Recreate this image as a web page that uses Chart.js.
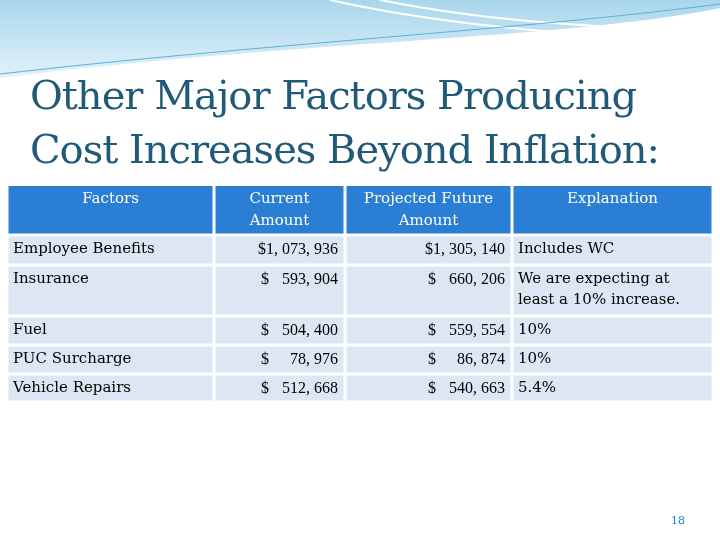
<!DOCTYPE html>
<html>
<head>
<meta charset="utf-8">
<script src="https://cdn.jsdelivr.net/npm/chart.js@4"></script>
<style>
  body { margin: 0; background: #fff; }
  #wrap { position: relative; width: 720px; height: 540px; }
  #title { position: absolute; left: 30px; top: 68px; font-family: "DejaVu Serif", serif; font-size: 40px;
           line-height: 54px; color: #215a78; letter-spacing: -1px; white-space: nowrap; }
  canvas { position: absolute; left: 0; top: 0; }
</style>
</head>
<body>
<div id="wrap">
  <canvas id="myChart" width="720" height="540"></canvas>
  <div id="title">Other Major Factors Producing<br>Cost Increases Beyond Inflation:</div>
</div>
<script>
const headers = [["Factors"], ["Current", "Amount"], ["Projected Future", "Amount"], ["Explanation"]];
const factors = ["Employee Benefits", "Insurance", "Fuel", "PUC Surcharge", "Vehicle Repairs"];
const currentAmounts = [1073936, 593904, 504400, 78976, 512668];
const projectedAmounts = [1305140, 660206, 559554, 86874, 540663];
const explanations = [["Includes WC"], ["We are expecting at", "least a 10% increase."], ["10%"], ["10%"], ["5.4%"]];

// layout (slide units)
const colEdges = [7, 214, 345, 512, 713];
const rowEdges = [186, 235, 265, 316, 345, 374, 402];
const gap = 1.5;

const fmt = (n) => n.toLocaleString("en-US").replace(/,/g, ", ");

const tablePlugin = {
  id: "table",
  beforeDraw: (chart) => {
    const ctx = chart.ctx;
    ctx.save();
    // top decoration
    let g = ctx.createLinearGradient(0, 0, 0, 80);
    g.addColorStop(0, "#a9d6ec"); g.addColorStop(1, "#e3f3fa");
    ctx.fillStyle = g;
    ctx.beginPath();
    ctx.moveTo(0, 0); ctx.lineTo(720, 0); ctx.lineTo(720, 8);
    ctx.bezierCurveTo(560, 40, 300, 40, 0, 78);
    ctx.closePath(); ctx.fill();
    ctx.strokeStyle = "#ffffff"; ctx.lineWidth = 2;
    ctx.beginPath(); ctx.moveTo(330, 0); ctx.bezierCurveTo(420, 20, 520, 32, 650, 38); ctx.stroke();
    ctx.beginPath(); ctx.moveTo(380, 0); ctx.bezierCurveTo(470, 18, 560, 26, 690, 30); ctx.stroke();
    ctx.strokeStyle = "#5fb0d8"; ctx.lineWidth = 1;
    ctx.beginPath(); ctx.moveTo(0, 74); ctx.bezierCurveTo(250, 45, 520, 30, 720, 4); ctx.stroke();
    ctx.restore();
  },
  afterDraw: (chart) => {
    const ctx = chart.ctx;
    const x = chart.scales.x, y = chart.scales.y;
    const px = (v) => x.getPixelForValue(v), py = (v) => y.getPixelForValue(v);
    const textFont = "15px 'DejaVu Serif', serif";
    const numFont = "16px 'Liberation Serif', serif";
    ctx.save();
    ctx.font = textFont;
    ctx.textBaseline = "top";
    // header
    for (let c = 0; c < 4; c++) {
      const x0 = px(colEdges[c] + gap), x1 = px(colEdges[c + 1] - gap);
      ctx.fillStyle = "#2a7fd4";
      ctx.fillRect(x0, py(rowEdges[0]), x1 - x0, py(rowEdges[1] - gap) - py(rowEdges[0]));
      ctx.fillStyle = "#ffffff"; ctx.textAlign = "center";
      headers[c].forEach((t, k) => ctx.fillText(t, (x0 + x1) / 2, py(rowEdges[0] + 6 + k * 22)));
    }
    // body
    for (let r = 0; r < factors.length; r++) {
      const y0 = py(rowEdges[r + 1] + gap), y1 = py(rowEdges[r + 2] - gap);
      const ty = py(rowEdges[r + 1] + 7);
      for (let c = 0; c < 4; c++) {
        const x0 = px(colEdges[c] + gap), x1 = px(colEdges[c + 1] - gap);
        ctx.fillStyle = "#dde7f3";
        ctx.fillRect(x0, y0, x1 - x0, y1 - y0);
      }
      ctx.fillStyle = "#000000";
      ctx.font = textFont;
      ctx.textAlign = "left";
      ctx.fillText(factors[r], px(colEdges[0] + 6), ty);
      ctx.font = numFont;
      [[currentAmounts[r], 1], [projectedAmounts[r], 2]].forEach(([v, c]) => {
        const right = px(colEdges[c + 1] - 7);
        if (v >= 1000000) {
          ctx.textAlign = "right"; ctx.fillText("$" + fmt(v), right, ty);
        } else {
          ctx.textAlign = "left"; ctx.fillText("$", right - 77, ty);
          ctx.textAlign = "right"; ctx.fillText(fmt(v), right, ty);
        }
      });
      ctx.font = textFont;
      ctx.textAlign = "left";
      explanations[r].forEach((t, k) => ctx.fillText(t, px(colEdges[3] + 6), ty + k * 21));
    }
    // page number
    ctx.fillStyle = "#1f78d1"; ctx.font = "11px 'DejaVu Serif', serif"; ctx.textAlign = "center";
    ctx.fillText("18", px(678), py(516));
    ctx.restore();
  }
};

const ctx = document.getElementById("myChart").getContext("2d");
const myChart = new Chart(ctx, {
  type: "scatter",
  data: { datasets: [{ data: [] }] },
  options: {
    responsive: false,
    animation: false,
    layout: { padding: 0 },
    plugins: { legend: { display: false }, tooltip: { enabled: false } },
    scales: {
      x: { type: "linear", min: 0, max: 720, display: false },
      y: { type: "linear", min: 0, max: 540, reverse: true, display: false }
    }
  },
  plugins: [tablePlugin]
});
</script>
</body>
</html>
